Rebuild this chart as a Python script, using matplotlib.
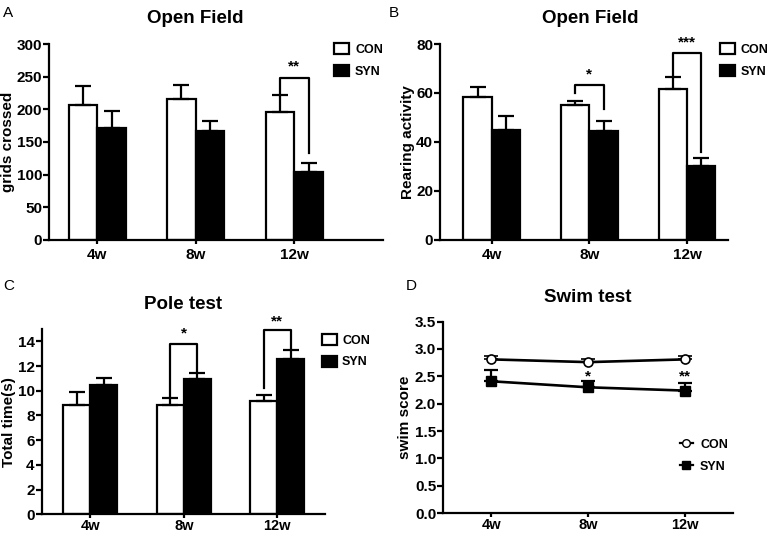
import numpy as np
import matplotlib
matplotlib.use("Agg")
import matplotlib.pyplot as plt
from matplotlib.patches import Patch
from matplotlib.lines import Line2D

plt.rcParams['font.family'] = ['Liberation Sans', 'DejaVu Sans']
plt.rcParams['font.weight'] = 'bold'

grupos = ['4w', '8w', '12w']

# A: Open Field, grids crossed
a_con = [206, 216, 196]
a_con_err = [29, 21, 26]
a_syn = [171, 167, 104]
a_syn_err = [26, 15, 14]

# B: Open Field, rearing activity
b_con = [58.2, 55.0, 61.6]
b_con_err = [4.1, 1.9, 5.1]
b_syn = [44.9, 44.5, 30.2]
b_syn_err = [5.8, 4.1, 3.4]

# C: Pole test
c_con = [8.83, 8.83, 9.15]
c_con_err = [1.07, 0.59, 0.48]
c_syn = [10.49, 10.91, 12.58]
c_syn_err = [0.54, 0.54, 0.72]

# D: Swim test
d_con = [2.81, 2.76, 2.81]
d_con_err = [0.06, 0.06, 0.06]
d_syn = [2.41, 2.30, 2.24]
d_syn_err = [0.20, 0.11, 0.13]

ANCHO = 0.29
LW = 1.6
FS_TICK = 11
FS_LABEL = 11


def _estilo_ejes(ax, ylim, yticks, xlim, xpad=3, xfs=FS_TICK):
    ax.set_xlim(*xlim)
    ax.set_ylim(*ylim)
    ax.set_yticks(yticks)
    ax.set_xticks(range(len(grupos)))
    ax.set_xticklabels(grupos, fontsize=xfs, fontweight='bold')
    for s in ['top', 'right']:
        ax.spines[s].set_visible(False)
    for s in ['left', 'bottom']:
        ax.spines[s].set_linewidth(LW)
    ax.tick_params(axis='x', length=3, width=LW, pad=xpad)
    ax.tick_params(axis='y', length=4, width=LW, labelsize=FS_TICK, pad=1)
    for t in ax.get_yticklabels():
        t.set_fontweight('bold')


def _barras(ax, con, con_err, syn, syn_err):
    x = np.arange(len(grupos))
    ax.bar(x - ANCHO / 2, con, ANCHO, color='white', edgecolor='black', linewidth=LW, zorder=2)
    ax.bar(x + ANCHO / 2, syn, ANCHO, color='black', edgecolor='black', linewidth=LW, zorder=2)
    ax.errorbar(x - ANCHO / 2, con, yerr=[np.zeros(3), con_err], fmt='none', ecolor='black',
                elinewidth=LW, capsize=6, capthick=LW, zorder=3)
    ax.errorbar(x + ANCHO / 2, syn, yerr=[np.zeros(3), syn_err], fmt='none', ecolor='black',
                elinewidth=LW, capsize=6, capthick=LW, zorder=3)


def _corchete(ax, i, y, y_izq, y_der, texto, y_texto):
    x0 = i - ANCHO / 2
    x1 = i + ANCHO / 2
    ax.plot([x0, x0, x1, x1], [y_izq, y, y, y_der], color='black', lw=LW, clip_on=False, zorder=4)
    ax.text(i, y_texto, texto, ha='center', va='center', fontsize=11, fontweight='bold')


def _leyenda_barras(ax, anchor):
    handles = [Patch(facecolor='white', edgecolor='black', linewidth=LW, label='CON'),
               Patch(facecolor='black', edgecolor='black', linewidth=LW, label='SYN')]
    ax.legend(handles=handles, loc='upper left', bbox_to_anchor=anchor, frameon=False,
              prop={'size': 9, 'weight': 'bold'}, handlelength=1.2, handleheight=1.0,
              handletextpad=0.45, labelspacing=0.7, borderaxespad=0)


fig = plt.figure(figsize=(7.72, 5.34), dpi=100)

# Panel A
ax = fig.add_axes([0.0635, 0.5506, 0.4325, 0.367])
_barras(ax, a_con, a_con_err, a_syn, a_syn_err)
_estilo_ejes(ax, (0, 300), range(0, 301, 50), (-0.49, 2.9))
ax.set_ylabel('grids crossed', fontsize=FS_LABEL, fontweight='bold', labelpad=1)
_corchete(ax, 2, 248, 222, 133, '**', 266)
_leyenda_barras(ax, (0.84, 1.03))
ax.set_title('Open Field', fontsize=13.5, fontweight='bold', x=0.437, pad=15)

# Panel B
ax = fig.add_axes([0.570, 0.5506, 0.373, 0.367])
_barras(ax, b_con, b_con_err, b_syn, b_syn_err)
_estilo_ejes(ax, (0, 80), range(0, 81, 20), (-0.53, 2.42))
ax.set_ylabel('Rearing activity', fontsize=FS_LABEL, fontweight='bold', labelpad=1)
_corchete(ax, 1, 63.3, 59.9, 53.5, '*', 67.5)
_corchete(ax, 2, 76.2, 66.7, 36.0, '***', 80.5)
_leyenda_barras(ax, (0.955, 1.03))
ax.set_title('Open Field', fontsize=13.5, fontweight='bold', x=0.52, pad=15)

# Panel C
ax = fig.add_axes([0.054, 0.037, 0.367, 0.347])
_barras(ax, c_con, c_con_err, c_syn, c_syn_err)
_estilo_ejes(ax, (0, 15), range(0, 15, 2), (-0.52, 2.51), xpad=0.5, xfs=10.5)
ax.set_ylabel('Total time(s)', fontsize=FS_LABEL, fontweight='bold', labelpad=1)
_corchete(ax, 1, 13.8, 9.5, 11.5, '*', 14.6)
_corchete(ax, 2, 14.9, 10.2, 13.4, '**', 15.6)
_leyenda_barras(ax, (0.97, 1.0))
ax.set_title('Pole test', fontsize=13.5, fontweight='bold', pad=14)

# Panel D
ax = fig.add_axes([0.574, 0.039, 0.3755, 0.3587])
x = np.arange(len(grupos))
ax.errorbar(x, d_con, yerr=[np.zeros(3), d_con_err], color='black', lw=LW + 0.3, marker='o',
            markersize=6.5, markerfacecolor='white', markeredgecolor='black', markeredgewidth=1.2,
            capsize=5, capthick=LW, elinewidth=LW, zorder=3)
ax.errorbar(x, d_syn, yerr=[np.zeros(3), d_syn_err], color='black', lw=LW + 0.3, marker='s',
            markersize=6.5, markerfacecolor='black', markeredgecolor='black',
            capsize=5, capthick=LW, elinewidth=LW, zorder=3)
_estilo_ejes(ax, (0, 3.5), np.arange(0, 3.51, 0.5), (-0.5, 2.5), xpad=0.5, xfs=10.5)
ax.set_yticklabels([f'{v:.1f}' for v in np.arange(0, 3.51, 0.5)], fontweight='bold')
ax.set_ylabel('swim score', fontsize=FS_LABEL, fontweight='bold', labelpad=2)
ax.text(1, 2.5, '*', ha='center', va='center', fontsize=11, fontweight='bold')
ax.text(2, 2.5, '**', ha='center', va='center', fontsize=11, fontweight='bold')
handles = [Line2D([], [], color='black', lw=LW, marker='o', markersize=5.5, markerfacecolor='white', label='CON'),
           Line2D([], [], color='black', lw=LW, marker='s', markersize=5.5, markerfacecolor='black', label='SYN')]
ax.legend(handles=handles, loc='upper left', bbox_to_anchor=(0.8, 0.415), frameon=False,
          prop={'size': 9, 'weight': 'bold'}, handlelength=1.0, handletextpad=0.6,
          labelspacing=0.8, borderaxespad=0)
ax.set_title('Swim test', fontsize=13.5, fontweight='bold', pad=14)

# Etiquetas de panel
fig.text(0.004, 0.988, 'A', fontsize=11, va='top')
fig.text(0.503, 0.988, 'B', fontsize=11, va='top')
fig.text(0.004, 0.478, 'C', fontsize=11, va='top')
fig.text(0.525, 0.478, 'D', fontsize=11, va='top')
for t in fig.texts:
    t.set_fontweight('normal')

fig.savefig('out.png', dpi=100)
